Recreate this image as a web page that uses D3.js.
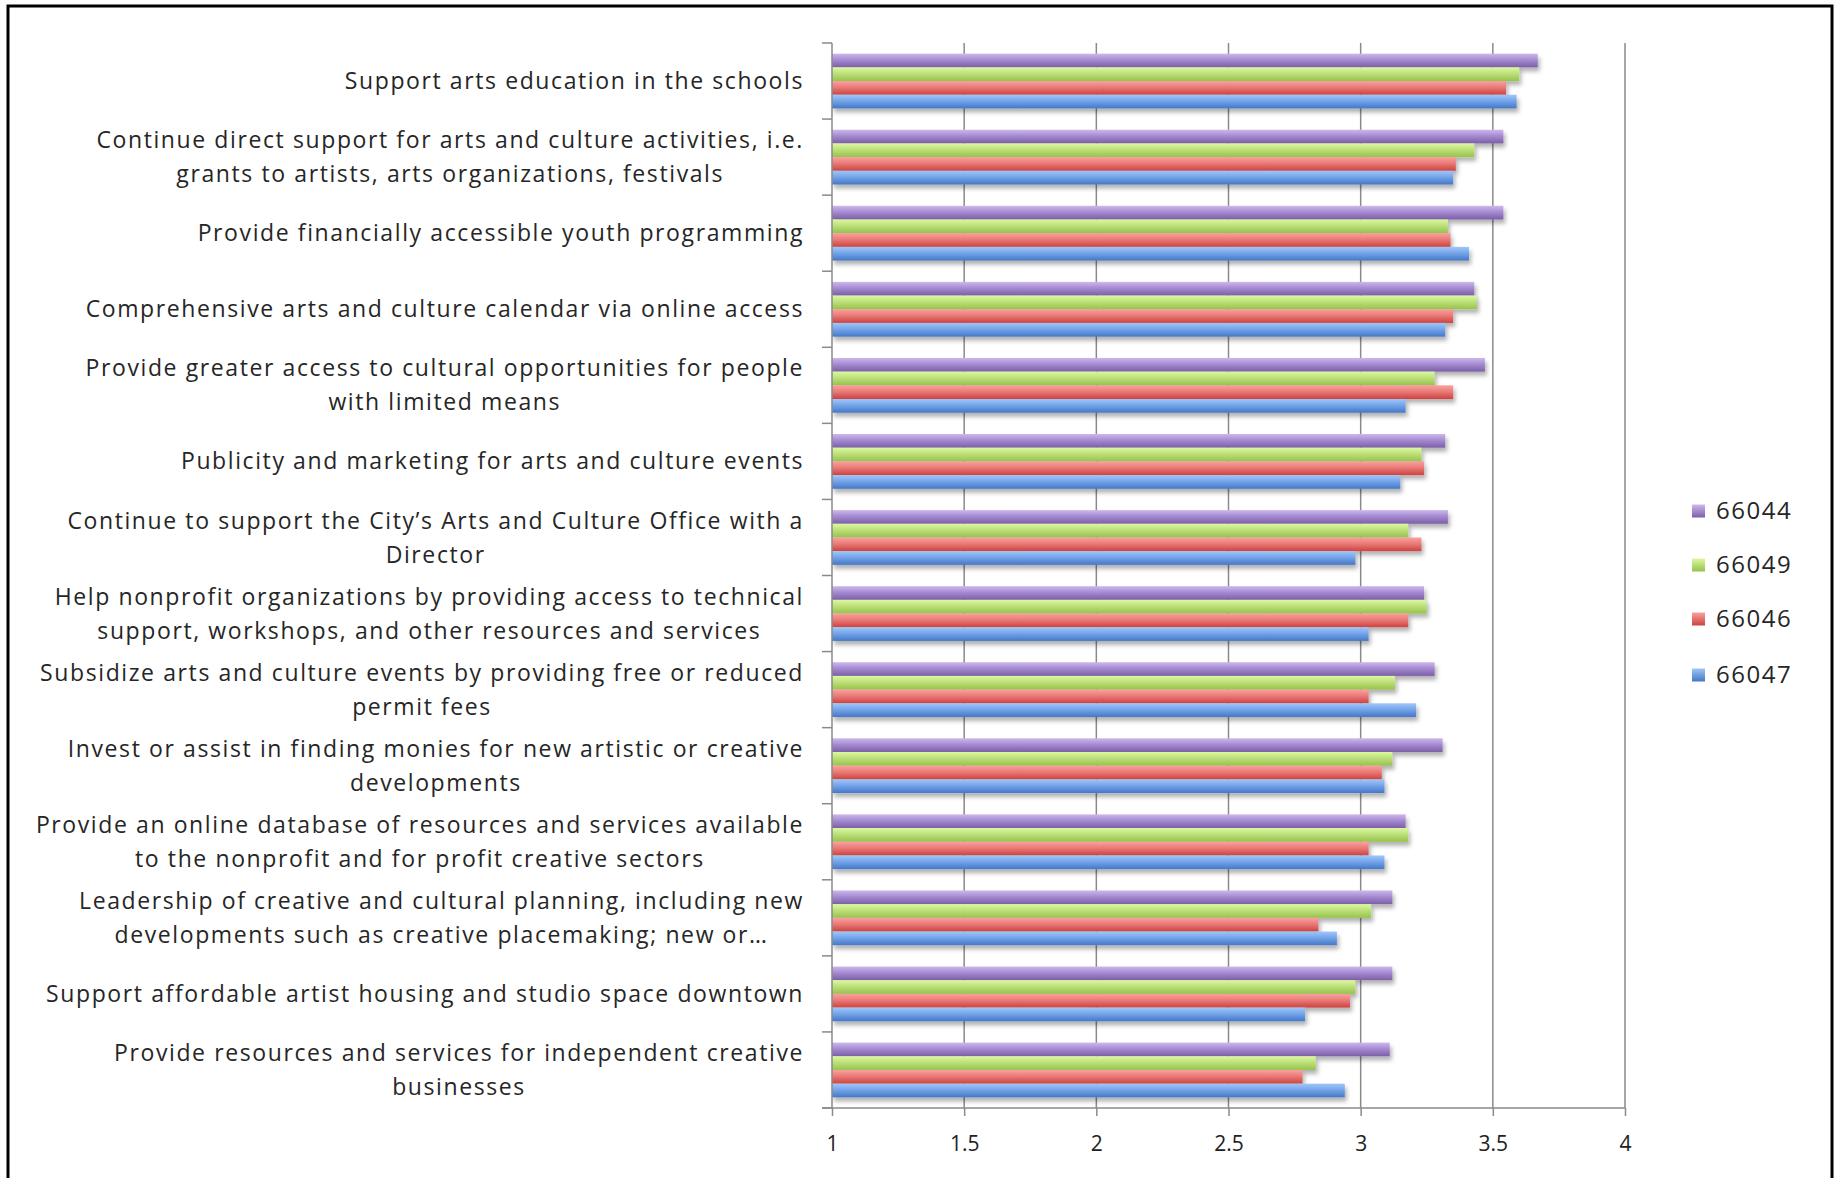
<!DOCTYPE html>
<html><head><meta charset="utf-8">
<script src="https://cdn.jsdelivr.net/npm/d3@7"></script>
<style>
html,body{margin:0;padding:0;background:#fff;}
svg{display:block;}
</style></head>
<body>
<svg id="chart" width="1843" height="1178"></svg>
<script>
const categories = [
  ["Support arts education in the schools"],
  ["Continue direct support for arts and culture activities, i.e.", "grants to artists, arts organizations, festivals"],
  ["Provide financially accessible youth programming"],
  ["Comprehensive arts and culture calendar via online access"],
  ["Provide greater access to cultural opportunities for people", "with limited means"],
  ["Publicity and marketing for arts and culture events"],
  ["Continue to support the City\u2019s Arts and Culture Office with a", "Director"],
  ["Help nonprofit organizations by providing access to technical", "support, workshops, and other resources and services"],
  ["Subsidize arts and culture events by providing free or reduced", "permit fees"],
  ["Invest or assist in finding monies for new artistic or creative", "developments"],
  ["Provide an online database of resources and services available", "to the nonprofit and for profit creative sectors"],
  ["Leadership of creative and cultural planning, including new", "developments such as creative placemaking; new or\u2026"],
  ["Support affordable artist housing and studio space downtown"],
  ["Provide resources and services for independent creative", "businesses"]
];
const seriesNames = ["66044", "66049", "66046", "66047"];
const values66044 = [3.67, 3.54, 3.54, 3.43, 3.47, 3.32, 3.33, 3.24, 3.28, 3.31, 3.17, 3.12, 3.12, 3.11];
const values66049 = [3.60, 3.43, 3.33, 3.44, 3.28, 3.23, 3.18, 3.25, 3.13, 3.12, 3.18, 3.04, 2.98, 2.83];
const values66046 = [3.55, 3.36, 3.34, 3.35, 3.35, 3.24, 3.23, 3.18, 3.03, 3.08, 3.03, 2.84, 2.96, 2.78];
const values66047 = [3.59, 3.35, 3.41, 3.32, 3.17, 3.15, 2.98, 3.03, 3.21, 3.09, 3.09, 2.91, 2.79, 2.94];
const xTicks = [1, 1.5, 2, 2.5, 3, 3.5, 4];
const xTickLabels = ["1", "1.5", "2", "2.5", "3", "3.5", "4"];

const seriesValues = [values66044, values66049, values66046, values66047];
const colors = [
  {top:"#cdb8ec", mid:"#a68bd2", bot:"#7c5fa6"},
  {top:"#dcf8a0", mid:"#bde07a", bot:"#97c24c"},
  {top:"#f9a19e", mid:"#ea7b78", bot:"#cc4340"},
  {top:"#a0c6f8", mid:"#74a5ea", bot:"#4577c6"}
];

const svg = d3.select("#chart");
const defs = svg.append("defs");
colors.forEach((c, i) => {
  const g = defs.append("linearGradient").attr("id", "grad" + i)
    .attr("x1", 0).attr("y1", 0).attr("x2", 0).attr("y2", 1);
  g.append("stop").attr("offset", "0%").attr("stop-color", c.top);
  g.append("stop").attr("offset", "45%").attr("stop-color", c.mid);
  g.append("stop").attr("offset", "100%").attr("stop-color", c.bot);
  const lgr = defs.append("linearGradient").attr("id", "lgrad" + i)
    .attr("x1", 0).attr("y1", 0).attr("x2", 0).attr("y2", 1);
  lgr.append("stop").attr("offset", "0%").attr("stop-color", c.top);
  lgr.append("stop").attr("offset", "100%").attr("stop-color", c.bot);
});
const f = defs.append("filter").attr("id", "shadow")
  .attr("x", "-5%").attr("y", "-30%").attr("width", "115%").attr("height", "190%");
f.append("feDropShadow").attr("dx", 2).attr("dy", 4).attr("stdDeviation", 2.2)
  .attr("flood-color", "#000").attr("flood-opacity", 0.3);

// outer border
svg.append("rect").attr("x", 8).attr("y", 6).attr("width", 1824).attr("height", 1240)
  .attr("fill", "none").attr("stroke", "#000").attr("stroke-width", 3);

const plotLeft = 832, plotRight = 1625, plotTop = 43, plotBottom = 1108;
const x = d3.scaleLinear().domain([1, 4]).range([plotLeft, plotRight]);
const y = d3.scaleBand().domain(d3.range(categories.length)).range([plotTop, plotBottom])
  .paddingInner(0.28).paddingOuter(0.14);
const ySub = d3.scaleBand().domain(d3.range(seriesNames.length)).range([0, y.bandwidth()]);

const gridColor = "#8a8a8a";
// gridlines
svg.append("g").selectAll("line").data(xTicks.slice(1)).join("line")
  .attr("x1", d => x(d)).attr("x2", d => x(d))
  .attr("y1", plotTop).attr("y2", plotBottom)
  .attr("stroke", gridColor).attr("stroke-width", 1.5);

// bars
const groups = svg.append("g").selectAll("g").data(categories).join("g")
  .attr("transform", (d, i) => `translate(0,${y(i)})`);
groups.each(function(d, ci) {
  const g = d3.select(this);
  seriesNames.forEach((s, si) => {
    g.append("rect")
      .attr("x", x(1))
      .attr("y", ySub(si))
      .attr("width", x(seriesValues[si][ci]) - x(1))
      .attr("height", ySub.bandwidth())
      .attr("fill", `url(#grad${si})`)
      .attr("filter", "url(#shadow)");
  });
});

// y axis line and category ticks
const step = y.step();
const boundaries = d3.range(categories.length + 1).map(i => plotTop + i * step);
svg.append("g").selectAll("line").data(boundaries).join("line")
  .attr("x1", plotLeft - 10).attr("x2", plotLeft).attr("y1", d => d).attr("y2", d => d)
  .attr("stroke", gridColor).attr("stroke-width", 1.5);
svg.append("line").attr("x1", plotLeft).attr("x2", plotLeft).attr("y1", plotTop).attr("y2", plotBottom)
  .attr("stroke", gridColor).attr("stroke-width", 1.5);

// x axis
const xAxis = d3.axisBottom(x).tickValues(xTicks).tickSize(8).tickPadding(20)
  .tickFormat((d, i) => xTickLabels[i]);
const xg = svg.append("g").attr("transform", `translate(0,${plotBottom})`).call(xAxis);
xg.select(".domain").attr("stroke", gridColor).attr("stroke-width", 1.5)
  .attr("d", `M${plotLeft - 10},0H${plotRight}`);
xg.selectAll(".tick line").attr("stroke", gridColor).attr("stroke-width", 1.5);
xg.selectAll(".tick text").attr("font-family", "Open Sans, sans-serif")
  .attr("font-size", 21).attr("fill", "#222");

// category labels
const labelRight = 804;
const lineH = 34;
const labG = svg.append("g").attr("font-family", "Open Sans, sans-serif")
  .attr("font-size", 23).attr("fill", "#262626").attr("letter-spacing", "1.6px");
categories.forEach((lines, ci) => {
  const cy = y(ci) + y.bandwidth() / 2;
  const texts = lines.map((t, li) => labG.append("text")
    .attr("y", cy + (li - (lines.length - 1) / 2) * lineH)
    .attr("dy", "0.35em").text(t));
  const widths = texts.map(t => t.node().getComputedTextLength());
  const maxW = d3.max(widths);
  const center = labelRight - maxW / 2;
  texts.forEach(t => t.attr("x", center).attr("text-anchor", "middle"));
});

// legend
const legendY = [511, 565, 619, 675];
const leg = svg.append("g");
seriesNames.forEach((s, i) => {
  leg.append("rect").attr("x", 1692).attr("y", legendY[i] - 6.5)
    .attr("width", 13).attr("height", 13).attr("fill", `url(#lgrad${i})`);
  leg.append("text").attr("x", 1716).attr("y", legendY[i]).attr("dy", "0.35em")
    .attr("font-family", "Open Sans, sans-serif").attr("font-size", 24)
    .attr("letter-spacing", "1.5px")
    .attr("fill", "#262626").text(s);
});
</script>
</body></html>
